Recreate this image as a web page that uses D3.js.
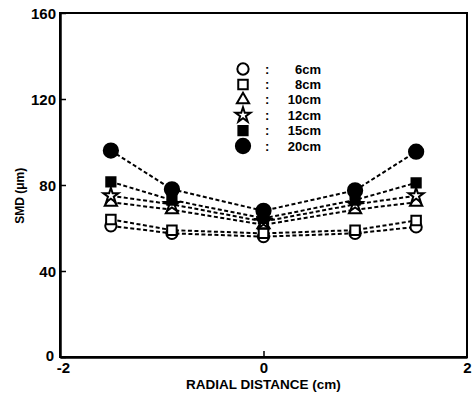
<!DOCTYPE html>
<html><head><meta charset="utf-8">
<script src="https://cdn.jsdelivr.net/npm/d3@7"></script>
<style>
body{margin:0;background:#fff;}
svg{display:block;}
text{font-family:"Liberation Sans",Arial,sans-serif;font-weight:bold;fill:#000;}
</style></head><body>
<svg id="c" width="473" height="403"></svg>
<script>
const xPositions = [-1.5, -0.9, 0, 0.9, 1.5];
const seriesNames = ["6cm", "8cm", "10cm", "12cm", "15cm", "20cm"];
const s6  = [61, 57.5, 56, 57.5, 60.5];
const s8  = [64, 59, 57.5, 59, 63.5];
const s10 = [72, 68.5, 61.5, 68.5, 72];
const s12 = [75, 71, 63, 71, 75];
const s15 = [81.5, 73, 64.5, 73, 81];
const s20 = [96, 78, 68, 77.5, 95.5];
const yTicks = [0, 40, 80, 120, 160];
const xTicks = [-2, 0, 2];

const seriesValues = [s6, s8, s10, s12, s15, s20];
const symTypes = [d3.symbolCircle, d3.symbolSquare, d3.symbolTriangle, d3.symbolStar, d3.symbolSquare, d3.symbolCircle];
const symFill = [false, false, false, false, true, true];
const symSize = [100, 90, 65, 70, 85, 160];

const svg = d3.select("#c");
const L = 60, R = 467, T = 13, B = 357;
const x = d3.scaleLinear().domain([-2, 2]).range([L, R]);
const y = d3.scaleLinear().domain([0, 160]).range([B, T]);

// frame
svg.append("rect").attr("x", L).attr("y", T).attr("width", R - L).attr("height", B - T)
  .attr("fill", "none").attr("stroke", "#000").attr("stroke-width", 2);

// y axis
const yAx = svg.append("g").attr("transform", `translate(${L},0)`)
  .call(d3.axisLeft(y).tickValues(yTicks).tickSizeInner(-6).tickSizeOuter(0).tickPadding(12));
yAx.select(".domain").attr("stroke-width", 2.5);
yAx.selectAll(".tick line").attr("stroke-width", 1.5);
yAx.selectAll("text").style("font-size", "15px").attr("dy", "0.35em").attr("x", -4);
yAx.selectAll(".tick").filter(d => d === 0).select("text").attr("x", -6).attr("dy", "0.25em");

// x axis
const xAx = svg.append("g").attr("transform", `translate(0,${B})`)
  .call(d3.axisBottom(x).tickValues(xTicks).tickSizeInner(-6).tickSizeOuter(0).tickPadding(4)
    .tickFormat(d => d === -2 ? "-2" : d3.format("d")(d)));
xAx.select(".domain").attr("stroke-width", 2.5);
xAx.selectAll(".tick line").attr("stroke-width", 1.5);
xAx.selectAll("text").style("font-size", "15px").attr("y", 5);
xAx.selectAll(".tick").filter(d => d === -2).select("text").attr("x", 3);
xAx.selectAll(".tick").filter(d => d !== 0).select("line").remove();

// axis titles
svg.append("text").attr("x", x(0)).attr("y", 389).attr("text-anchor", "middle")
  .style("font-size", "13.5px").text("RADIAL DISTANCE (cm)");
svg.append("text").attr("transform", `translate(24,${y(75)}) rotate(-90)`).attr("text-anchor", "middle")
  .style("font-size", "12px").text("SMD (\u03bcm)");

// lines
const line = d3.line().x((d, i) => x(xPositions[i])).y(d => y(d));
seriesValues.forEach((vals, k) => {
  svg.append("path").datum(vals).attr("d", line).attr("fill", "none")
    .attr("stroke", "#000").attr("stroke-width", 2).attr("stroke-dasharray", "4,2.5");
});
// symbols
function drawSym(g, k, cx, cy) {
  g.append("path").attr("transform", `translate(${cx},${cy})`)
    .attr("d", d3.symbol().type(symTypes[k]).size(symSize[k])())
    .attr("fill", symFill[k] ? "#000" : "#fff").attr("stroke", "#000").attr("stroke-width", 2);
}
const gs = svg.append("g");
seriesValues.forEach((vals, k) => {
  vals.forEach((v, i) => drawSym(gs, k, x(xPositions[i]), y(v)));
});

// legend
const legY0 = 69, legDy = 15.4;
seriesNames.forEach((name, k) => {
  const yy = legY0 + k * legDy;
  drawSym(svg, k, 243, yy);
  svg.append("text").attr("x", 265).attr("y", yy).attr("dy", "0.35em").style("font-size", "13px").text(":");
  svg.append("text").attr("x", 321).attr("y", yy).attr("dy", "0.35em").attr("text-anchor", "end")
    .style("font-size", "13px").text(name);
});
</script></body></html>
